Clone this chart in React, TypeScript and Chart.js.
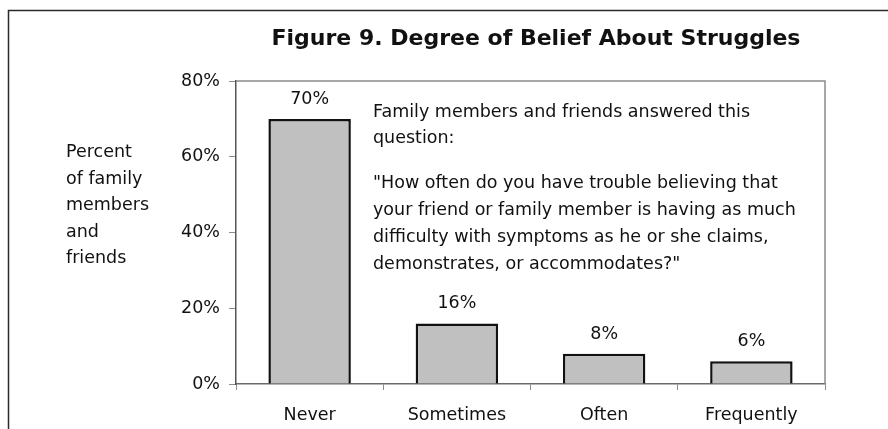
import React, { useEffect, useRef } from "react";
import { Chart, registerables } from "chart.js";

Chart.register(...registerables);

const categories = ["Never", "Sometimes", "Often", "Frequently"];
const values = [70, 16, 8, 6];
const yTicks = [0, 20, 40, 60, 80];
const titleText = "Figure 9. Degree of Belief About Struggles";
const yLabelLines = ["Percent", "of family", "members", "and", "friends"];
const noteLines = [
  "Family members and friends answered this",
  "question:",
  "",
  "\"How often do you have trouble believing that",
  "your friend or family member is having as much",
  "difficulty with symptoms as he or she claims,",
  "demonstrates, or accommodates?\"",
];

const FONT = "'DejaVu Sans', sans-serif";
const FS = 17.5;

const decorPlugin = {
  id: "decor",
  beforeDraw(chart: any) {
    const ctx = chart.ctx;
    ctx.save();
    ctx.fillStyle = "#ffffff";
    ctx.fillRect(0, 0, chart.width, chart.height);
    ctx.strokeStyle = "#2a2a2a";
    ctx.lineWidth = 1.5;
    ctx.beginPath();
    ctx.moveTo(8.5, chart.height);
    ctx.lineTo(8.5, 10.5);
    ctx.lineTo(chart.width, 10.5);
    ctx.stroke();
    ctx.restore();
  },
  afterDraw(chart: any) {
    const ctx = chart.ctx;
    const a = chart.chartArea;
    ctx.save();
    ctx.strokeStyle = "#8a8a8a";
    ctx.lineWidth = 1.5;
    ctx.beginPath();
    ctx.moveTo(a.left, a.top);
    ctx.lineTo(a.right, a.top);
    ctx.lineTo(a.right, a.bottom);
    ctx.stroke();

    ctx.fillStyle = "#111111";
    ctx.font = "bold 22px " + FONT;
    ctx.textAlign = "center";
    ctx.textBaseline = "alphabetic";
    ctx.fillText(titleText, 536, 45);

    ctx.font = FS + "px " + FONT;
    ctx.textAlign = "left";
    yLabelLines.forEach((t, i) => ctx.fillText(t, 66, 157 + i * 26.5));

    const noteY = [117, 143, 0, 188, 215, 242, 269];
    noteLines.forEach((t, i) => {
      if (t) ctx.fillText(t, 373, noteY[i]);
    });

    ctx.textAlign = "center";
    const meta = chart.getDatasetMeta(0);
    meta.data.forEach((bar: any, i: number) => {
      ctx.fillText(values[i] + "%", bar.x, bar.y - 15);
    });
    ctx.restore();
  },
};

export default function App() {
  const ref = useRef<HTMLCanvasElement>(null);
  useEffect(() => {
    const chart = new Chart(ref.current!, {
      type: "bar",
      data: {
        labels: categories,
        datasets: [
          {
            data: values,
            backgroundColor: "#c0c0c0",
            borderColor: "#111111",
            borderWidth: 2.5,
            borderSkipped: "bottom",
            categoryPercentage: 1,
            barPercentage: 0.56,
          },
        ],
      },
      options: {
        responsive: false,
        animation: false,
        layout: { padding: { left: 0, top: 81, right: 63, bottom: 0 } },
        plugins: { legend: { display: false }, tooltip: { enabled: false }, title: { display: false } },
        scales: {
          x: {
            afterFit: (s: any) => {
              s.height = 45;
            },
            grid: {
              offset: true,
              drawOnChartArea: false,
              drawTicks: true,
              tickLength: 6,
              color: "#8a8a8a",
            },
            border: { color: "#6a6a6a", width: 1.5 },
            ticks: { color: "#111111", font: { family: FONT, size: FS }, padding: 15 },
          },
          y: {
            min: 0,
            max: 80,
            afterFit: (s: any) => {
              s.width = 236;
            },
            afterBuildTicks: (s: any) => {
              s.ticks = yTicks.map((v) => ({ value: v }));
            },
            grid: {
              drawOnChartArea: false,
              drawTicks: true,
              tickLength: 7,
              color: "#8a8a8a",
            },
            border: { color: "#555555", width: 1.5 },
            ticks: {
              color: "#111111",
              font: { family: FONT, size: FS },
              padding: 9,
              callback: (v: any) => v + "%",
            },
          },
        },
      },
      plugins: [decorPlugin],
    });
    return () => chart.destroy();
  }, []);
  return (
    <div style={{ position: "fixed", left: 0, top: 0, width: 888, height: 429, background: "#fff" }}>
      <canvas ref={ref} width={888} height={429} style={{ display: "block", width: 888, height: 429 }} />
    </div>
  );
}
